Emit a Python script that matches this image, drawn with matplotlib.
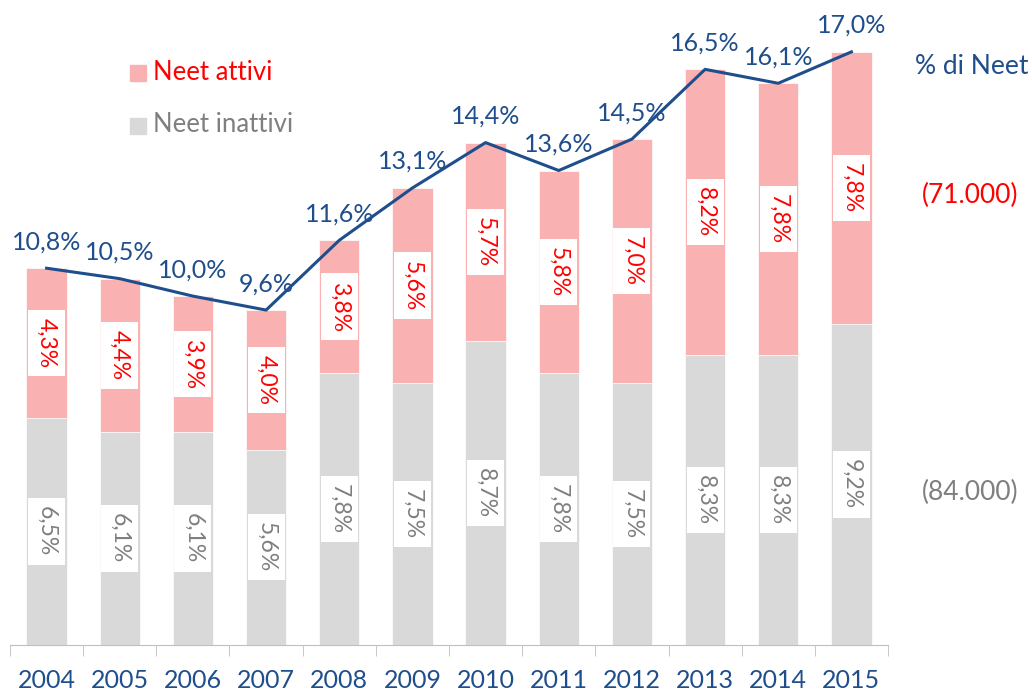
import numpy as np
import matplotlib
matplotlib.use('Agg')
import matplotlib.pyplot as plt

plt.rcParams['font.family'] = ['Lato', 'DejaVu Sans']

years = ['2004', '2005', '2006', '2007', '2008', '2009', '2010', '2011', '2012', '2013', '2014', '2015']
inattivi = [6.5, 6.1, 6.1, 5.6, 7.8, 7.5, 8.7, 7.8, 7.5, 8.3, 8.3, 9.2]
attivi = [4.3, 4.4, 3.9, 4.0, 3.8, 5.6, 5.7, 5.8, 7.0, 8.2, 7.8, 7.8]
totale = [10.8, 10.5, 10.0, 9.6, 11.6, 13.1, 14.4, 13.6, 14.5, 16.5, 16.1, 17.0]

blue = '#1F4E8C'
pink = '#F9B1B1'
grey = '#D9D9D9'
red = '#FF0000'
grey_txt = '#7F7F7F'

def fmt(v):
    return f'{v:.1f}%'.replace('.', ',')

fig = plt.figure(figsize=(10.32, 6.95), dpi=100)
ax = fig.add_axes([10 / 1032, 50 / 695, 878 / 1032, 628 / 695])

x = np.arange(len(years))
w = 0.55
ax.bar(x, inattivi, w, color=grey, edgecolor='white', linewidth=0.5, zorder=2)
ax.bar(x, attivi, w, bottom=inattivi, color=pink, edgecolor='white', linewidth=0.5, zorder=2)
ax.plot(x, totale, color=blue, lw=2.2, zorder=4)

box = dict(boxstyle='square,pad=0.35', fc='white', ec='none')
for i in range(len(years)):
    ax.text(x[i], inattivi[i] / 2, fmt(inattivi[i]), rotation=270, ha='center', va='center',
            fontsize=16.5, color=grey_txt, bbox=box, zorder=5)
    ax.text(x[i], inattivi[i] + attivi[i] / 2, fmt(attivi[i]), rotation=270, ha='center', va='center',
            fontsize=16.5, color=red, bbox=box, zorder=5)
    ax.annotate(fmt(totale[i]), (x[i], totale[i]), xytext=(0, 19), textcoords='offset points',
                ha='center', va='center', fontsize=18, color=blue, zorder=6)

ax.set_xlim(-0.5, len(years) - 0.5)
ax.set_ylim(0, 18)
for s in ['top', 'right', 'left']:
    ax.spines[s].set_visible(False)
ax.spines['bottom'].set_color('#BFBFBF')
ax.set_yticks([])
ax.set_xticks(x)
ax.set_xticklabels(years, fontsize=18, color=blue)
ax.tick_params(axis='x', which='major', length=0, pad=17)
ax.set_xticks(np.arange(-0.5, len(years)), minor=True)
ax.tick_params(axis='x', which='minor', length=8, color='#BFBFBF')

# legenda
fig.patches.append(plt.Rectangle((130 / 1032, 1 - 81 / 695), 16 / 1032, 16 / 695,
                                 transform=fig.transFigure, color=pink))
fig.patches.append(plt.Rectangle((130 / 1032, 1 - 134 / 695), 16 / 1032, 16 / 695,
                                 transform=fig.transFigure, color=grey))
fig.text(153 / 1032, 1 - 72 / 695, 'Neet attivi', fontsize=18.5, color=red, va='center')
fig.text(153 / 1032, 1 - 125 / 695, 'Neet inattivi', fontsize=18.5, color=grey_txt, va='center')

fig.text(972 / 1032, 1 - 66 / 695, '% di Neet', fontsize=19, color=blue, ha='center', va='center')
fig.text(970 / 1032, 1 - 195 / 695, '(71.000)', fontsize=19, color=red, ha='center', va='center')
fig.text(970 / 1032, 1 - 492 / 695, '(84.000)', fontsize=19, color=grey_txt, ha='center', va='center')

fig.savefig('out.png', dpi=100)
